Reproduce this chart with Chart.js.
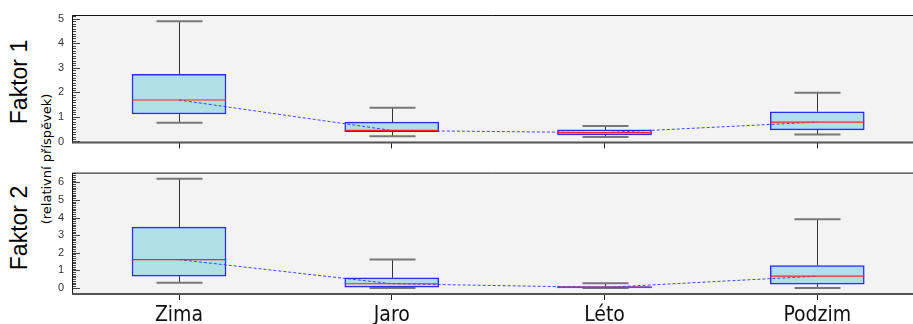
<!DOCTYPE html>
<html>
<head>
<meta charset="utf-8">
<script src="https://cdn.jsdelivr.net/npm/chart.js@4.4.1/dist/chart.umd.min.js"></script>
<style>
body { margin: 0; background: #fff; width: 913px; height: 324px; overflow: hidden; position: relative; }
canvas { position: absolute; left: 0; }
#c1 { top: 0; }
#c2 { top: 158px; }
.ytitle { position: absolute; white-space: nowrap; line-height: 1; transform: translate(-50%, -50%) rotate(-90deg); font-family: "Liberation Sans", Arial, sans-serif; color: #000; }
</style>
</head>
<body>
<div class="ytitle" style="left:19px; top:82px; font-size:23px;">Faktor 1</div>
<div class="ytitle" style="left:19px; top:228px; font-size:23px;">Faktor 2</div>
<div class="ytitle" style="left:46px; top:159px; font-size:13px; font-family:'DejaVu Sans', sans-serif;">(relativní příspěvek)</div>
<canvas id="c1" width="913" height="158"></canvas>
<canvas id="c2" width="913" height="166"></canvas>
<script>
var categories = ['Zima', 'Jaro', 'Léto', 'Podzim'];

// Faktor 1
var f1Min = [0.76, 0.21, 0.18, 0.28];
var f1Q1  = [1.12, 0.40, 0.27, 0.47];
var f1Med = [1.69, 0.45, 0.36, 0.79];
var f1Q3  = [2.74, 0.79, 0.47, 1.21];
var f1Max = [4.90, 1.37, 0.63, 1.99];
var f1Ticks = [0, 1, 2, 3, 4, 5];

// Faktor 2
var f2Min = [0.29, 0.00, 0.00, 0.00];
var f2Q1  = [0.67, 0.05, 0.00, 0.22];
var f2Med = [1.61, 0.24, 0.03, 0.67];
var f2Q3  = [3.45, 0.58, 0.08, 1.27];
var f2Max = [6.20, 1.61, 0.27, 3.90];
var f2Ticks = [0, 1, 2, 3, 4, 5, 6];

// whiskers, medians, frame and the little ticks inside the left edge
var boxPlugin = {
    id: 'boxExtras',
    beforeDraw: function(chart) {
        var a = chart.chartArea, ctx = chart.ctx;
        ctx.save();
        ctx.fillStyle = '#f3f3f3';
        ctx.fillRect(a.left, a.top, a.right - a.left, a.bottom - a.top);
        ctx.restore();
    },
    beforeDatasetsDraw: function(chart) {
        var o = chart.options.plugins.boxExtras;
        var x = chart.scales.x, y = chart.scales.y, ctx = chart.ctx;
        ctx.save();
        for (var i = 0; i < categories.length; i++) {
            var cx = Math.round(x.getPixelForValue(i)) + 0.5;
            ctx.strokeStyle = '#333';
            ctx.lineWidth = 1;
            ctx.beginPath();
            ctx.moveTo(cx, y.getPixelForValue(o.max[i]));
            ctx.lineTo(cx, y.getPixelForValue(o.q3[i]));
            ctx.moveTo(cx, y.getPixelForValue(o.q1[i]));
            ctx.lineTo(cx, y.getPixelForValue(o.min[i]));
            ctx.stroke();
            ctx.strokeStyle = '#777';
            ctx.lineWidth = 2;
            ctx.beginPath();
            ctx.moveTo(cx - 23, y.getPixelForValue(o.max[i]));
            ctx.lineTo(cx + 23, y.getPixelForValue(o.max[i]));
            ctx.moveTo(cx - 23, y.getPixelForValue(o.min[i]));
            ctx.lineTo(cx + 23, y.getPixelForValue(o.min[i]));
            ctx.stroke();
        }
        ctx.restore();
    },
    afterDatasetsDraw: function(chart) {
        var o = chart.options.plugins.boxExtras;
        var x = chart.scales.x, y = chart.scales.y, ctx = chart.ctx;
        ctx.save();
        ctx.strokeStyle = '#ff2020';
        ctx.lineWidth = 1.2;
        for (var i = 0; i < categories.length; i++) {
            var cx = x.getPixelForValue(i);
            var my = y.getPixelForValue(o.med[i]);
            ctx.beginPath();
            ctx.moveTo(cx - 47, my);
            ctx.lineTo(cx + 47, my);
            ctx.stroke();
        }
        ctx.restore();
    },
    afterDraw: function(chart) {
        var a = chart.chartArea, ctx = chart.ctx, y = chart.scales.y;
        ctx.save();
        // minor / major ticks on the left edge, inside the plot
        ctx.strokeStyle = '#444';
        ctx.lineWidth = 1;
        for (var k = 0; k <= Math.floor(y.max * 10); k++) {
            var v = k / 10;
            if (v < y.min) continue;
            var py = Math.round(y.getPixelForValue(v)) + 0.5;
            var len = (k % 10 == 0) ? 8 : 4;
            ctx.beginPath();
            ctx.moveTo(a.left, py);
            ctx.lineTo(a.left + len, py);
            ctx.stroke();
        }
        // frame
        ctx.strokeStyle = '#111';
        ctx.lineWidth = 1;
        ctx.beginPath();
        ctx.moveTo(a.left + 0.5, a.bottom);
        ctx.lineTo(a.left + 0.5, a.top + 0.5);
        ctx.lineTo(a.right, a.top + 0.5);
        ctx.stroke();
        ctx.strokeStyle = '#555';
        ctx.lineWidth = 2;
        ctx.beginPath();
        ctx.moveTo(a.left, a.bottom - 1);
        ctx.lineTo(a.right, a.bottom - 1);
        ctx.stroke();
        ctx.restore();
    }
};

function makePanel(id, mins, q1s, meds, q3s, maxs, yTicks, yMin, yMax, padTop, xHeight, showLabels) {
    var boxes = [], medLine = [];
    for (var i = 0; i < categories.length; i++) {
        boxes.push({ x: i, y: [q1s[i], q3s[i]] });
        medLine.push({ x: i, y: meds[i] });
    }
    var ctx = document.getElementById(id).getContext('2d');
    return new Chart(ctx, {
        type: 'bar',
        data: {
            datasets: [{
                type: 'line',
                data: medLine,
                borderColor: 'rgba(40, 40, 255, 0.85)',
                borderWidth: 1,
                borderDash: [3, 2],
                pointRadius: 0,
                fill: false,
                order: 1
            }, {
                data: boxes,
                backgroundColor: '#b0e0e6',
                borderColor: '#2a2aff',
                borderWidth: 1.5,
                borderSkipped: false,
                barThickness: 94,
                order: 2
            }]
        },
        options: {
            responsive: false,
            animation: false,
            devicePixelRatio: 1,
            layout: { padding: { top: padTop, left: 0, right: 0, bottom: 0 } },
            plugins: {
                legend: { display: false },
                tooltip: { enabled: false },
                boxExtras: { min: mins, q1: q1s, med: meds, q3: q3s, max: maxs }
            },
            scales: {
                x: {
                    type: 'linear',
                    offset: false,
                    min: -0.503,
                    max: 3.45,
                    afterBuildTicks: function(scale) {
                        scale.ticks = categories.map(function(c, i) { return { value: i }; });
                    },
                    afterFit: function(scale) { scale.height = xHeight; },
                    border: { display: false },
                    grid: { offset: false, drawOnChartArea: false, tickLength: 5, color: '#222' },
                    ticks: {
                        display: showLabels,
                        padding: 3,
                        color: '#111',
                        font: { family: '"DejaVu Sans Condensed", "DejaVu Sans", sans-serif', size: 21 },
                        callback: function(v) { return categories[v]; }
                    }
                },
                y: {
                    min: yMin,
                    max: yMax,
                    afterBuildTicks: function(scale) {
                        scale.ticks = yTicks.map(function(t) { return { value: t }; });
                    },
                    afterFit: function(scale) { scale.width = 72; },
                    border: { display: false },
                    grid: { display: false, drawTicks: false },
                    ticks: {
                        padding: 8,
                        color: '#333',
                        font: { family: '"Liberation Sans", Arial, sans-serif', size: 11 }
                    }
                }
            }
        },
        plugins: [boxPlugin]
    });
}

makePanel('c1', f1Min, f1Q1, f1Med, f1Q3, f1Max, f1Ticks, -0.078, 5.155, 15, 8, false);
makePanel('c2', f2Min, f2Q1, f2Med, f2Q3, f2Max, f2Ticks, -0.40, 6.55, 2, 29, true);
</script>
</body>
</html>
